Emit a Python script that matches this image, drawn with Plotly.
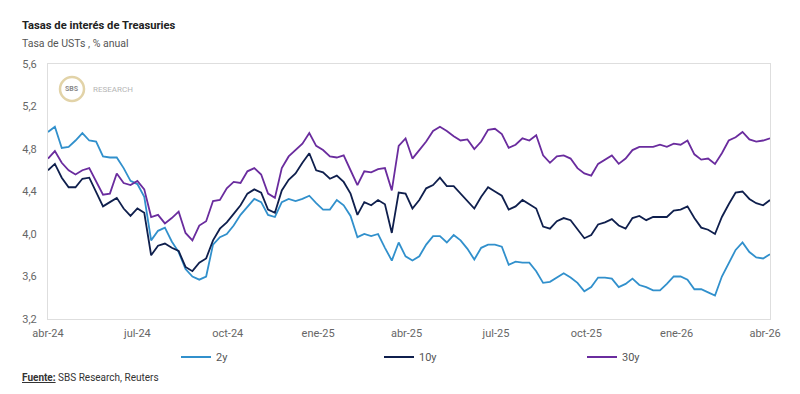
import pandas as pd
import plotly.graph_objects as go

dates = pd.date_range("2024-04-01", periods=106, freq="7D")

y2 = [4.96, 5.01, 4.81, 4.82, 4.88, 4.95, 4.88, 4.87, 4.73, 4.72,
      4.72, 4.62, 4.50, 4.47, 4.35, 3.94, 4.03, 4.06, 3.93, 3.83,
      3.67, 3.60, 3.57, 3.60, 3.90, 3.97, 4.00, 4.08, 4.18, 4.25,
      4.33, 4.30, 4.18, 4.16, 4.30, 4.33, 4.31, 4.33, 4.36, 4.29,
      4.23, 4.23, 4.32, 4.27, 4.17, 3.97, 4.00, 3.98, 4.00, 3.87,
      3.75, 3.92, 3.79, 3.75, 3.79, 3.90, 3.98, 3.98, 3.92, 3.99,
      3.94, 3.86, 3.76, 3.87, 3.90, 3.90, 3.88, 3.71, 3.74, 3.73,
      3.73, 3.65, 3.54, 3.55, 3.59, 3.63, 3.59, 3.54, 3.46, 3.50,
      3.59, 3.59, 3.58, 3.50, 3.53, 3.58, 3.52, 3.50, 3.47, 3.47,
      3.53, 3.60, 3.60, 3.57, 3.48, 3.48, 3.45, 3.42, 3.60, 3.72,
      3.85, 3.92, 3.83, 3.78, 3.77, 3.81]

y10 = [4.60, 4.66, 4.53, 4.44, 4.44, 4.52, 4.53, 4.40, 4.26, 4.30,
       4.34, 4.24, 4.17, 4.24, 4.20, 3.80, 3.89, 3.91, 3.87, 3.84,
       3.69, 3.65, 3.73, 3.77, 3.94, 4.05, 4.11, 4.19, 4.27, 4.38,
       4.42, 4.39, 4.23, 4.20, 4.41, 4.51, 4.57, 4.67, 4.76, 4.60,
       4.58, 4.52, 4.55, 4.49, 4.38, 4.18, 4.30, 4.27, 4.32, 4.28,
       4.01, 4.39, 4.38, 4.24, 4.32, 4.43, 4.46, 4.53, 4.45, 4.45,
       4.38, 4.31, 4.24, 4.35, 4.44, 4.40, 4.36, 4.23, 4.26, 4.32,
       4.28, 4.24, 4.07, 4.05, 4.12, 4.15, 4.13, 4.04, 3.96, 3.99,
       4.09, 4.11, 4.14, 4.08, 4.05, 4.15, 4.17, 4.13, 4.16, 4.16,
       4.16, 4.22, 4.23, 4.26, 4.15, 4.06, 4.04, 4.00, 4.16, 4.28,
       4.39, 4.40, 4.33, 4.29, 4.27, 4.32]

y30 = [4.71, 4.78, 4.67, 4.60, 4.56, 4.60, 4.62, 4.50, 4.37, 4.38,
       4.57, 4.48, 4.46, 4.50, 4.42, 4.16, 4.18, 4.10, 4.15, 4.21,
       4.01, 3.94, 4.08, 4.12, 4.31, 4.32, 4.43, 4.49, 4.48, 4.59,
       4.62, 4.56, 4.38, 4.34, 4.62, 4.73, 4.79, 4.85, 4.95, 4.83,
       4.79, 4.73, 4.72, 4.74, 4.60, 4.46, 4.59, 4.58, 4.61, 4.62,
       4.41, 4.83, 4.90, 4.71, 4.79, 4.87, 4.97, 5.01, 4.97, 4.92,
       4.88, 4.89, 4.80, 4.87, 4.98, 4.99, 4.94, 4.81, 4.84, 4.90,
       4.88, 4.93, 4.74, 4.67, 4.73, 4.74, 4.71, 4.62, 4.57, 4.55,
       4.66, 4.70, 4.74, 4.66, 4.71, 4.79, 4.82, 4.82, 4.82, 4.84,
       4.82, 4.85, 4.84, 4.88, 4.75, 4.70, 4.71, 4.66, 4.76, 4.88,
       4.91, 4.96, 4.89, 4.87, 4.88, 4.90]

series_names = ["2y", "10y", "30y"]
series_colors = ["#3190cc", "#0f1f4d", "#6a2c9e"]

tick_dates = ["2024-04-01", "2024-07-01", "2024-10-01", "2025-01-01", "2025-04-01",
              "2025-07-01", "2025-10-01", "2026-01-01", "2026-04-01"]
tick_labels = ["abr-24", "jul-24", "oct-24", "ene-25", "abr-25",
               "jul-25", "oct-25", "ene-26", "abr-26"]
y_ticks = [3.2, 3.6, 4.0, 4.4, 4.8, 5.2, 5.6]

fig = go.Figure()
for name, vals, col in zip(series_names, [y2, y10, y30], series_colors):
    fig.add_trace(go.Scatter(x=dates, y=vals, mode="lines", name=name,
                             line=dict(color=col, width=1.8)))

W, H = 800, 394
L, R, T, B = 48, 30, 64, 75
pw, ph = W - L - R, H - T - B

def px(x):
    return (x - L) / pw

def py(y):
    return (H - B - y) / ph

font = "Roboto, Arial, sans-serif"

fig.update_layout(
    width=W, height=H,
    margin=dict(l=L, r=R, t=T, b=B),
    paper_bgcolor="white", plot_bgcolor="white",
    separators=",.",
    font=dict(family=font, size=11, color="#666666"),
    showlegend=True,
    legend=dict(orientation="h", x=px(176), y=py(357), xanchor="left", yanchor="middle",
                entrywidth=158, entrywidthmode="pixels",
                font=dict(size=11, color="#555555"), bgcolor="rgba(0,0,0,0)"),
    xaxis=dict(type="date", range=[dates[0], dates[-1]],
               tickvals=tick_dates, ticktext=tick_labels,
               showgrid=False, zeroline=False,
               showline=True, linecolor="#dedede", linewidth=1, mirror=True,
               ticks="", ticklabelstandoff=4, tickfont=dict(size=11, color="#666666")),
    yaxis=dict(range=[3.2, 5.6], tickvals=y_ticks, tickformat=".1f",
               showgrid=False, zeroline=False,
               showline=True, linecolor="#dedede", linewidth=1, mirror=True,
               ticks="", ticklabelstandoff=8, tickfont=dict(size=11, color="#666666")),
)

annotations = [
    dict(text="<b>Tasas de interés de Treasuries</b>", x=px(20), y=py(25),
         font=dict(size=11.2, color="#222222")),
    dict(text="Tasa de USTs , % anual", x=px(20), y=py(43),
         font=dict(size=10.5, color="#555555")),
    dict(text="<b><u>Fuente:</u></b> SBS Research, Reuters", x=px(20), y=py(377),
         font=dict(size=10, color="#333333")),
    dict(text="<b>SBS</b>", x=px(72), y=py(89), xanchor="center",
         font=dict(size=7, color="#8a8a8a")),
    dict(text="RESEARCH", x=px(91), y=py(89),
         font=dict(size=8, color="#b5b5b5")),
]
for a in annotations:
    a.update(xref="paper", yref="paper", showarrow=False,
             xanchor=a.get("xanchor", "left"), yanchor="middle")
    fig.add_annotation(**a)

fig.add_shape(type="circle", xref="paper", yref="paper",
              x0=px(60), x1=px(84), y0=py(101), y1=py(77),
              line=dict(color="#e2d3a8", width=2.5), fillcolor="white")

fig.write_html("out.html", config={"displayModeBar": False},
               post_script="document.body.style.margin='0';")
